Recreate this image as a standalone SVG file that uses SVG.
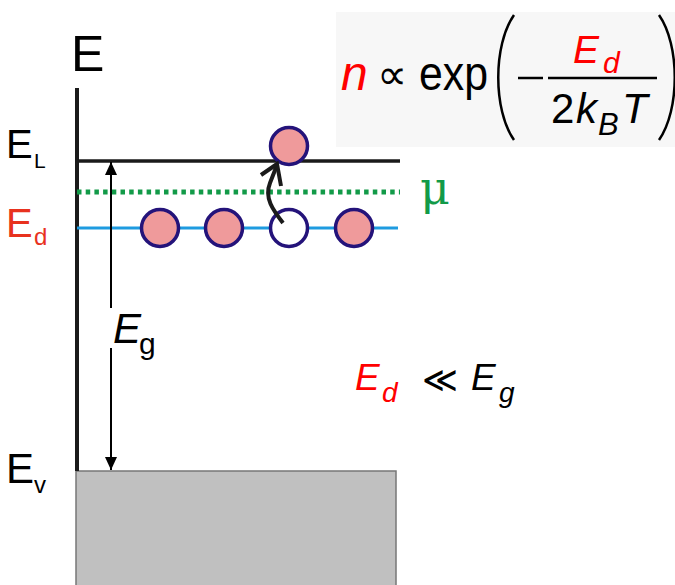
<svg xmlns="http://www.w3.org/2000/svg" width="675" height="585" viewBox="0 0 675 585">
<style>
.sans{font-family:"Liberation Sans",Arial,sans-serif}
.it{font-style:italic}
.red{fill:#ff0000}
.lred{fill:#e8321e}
.dot{fill:#ef9a9b;stroke:#24137a;stroke-width:3.5}
.hole{fill:#ffffff;stroke:#24137a;stroke-width:3.5}
</style>
<defs>
<marker id="ah" viewBox="0 0 13 12" refX="13" refY="6" markerWidth="13" markerHeight="12" markerUnits="userSpaceOnUse" orient="auto">
<path d="M0,0 L13,6 L0,12 Z" fill="#000"/>
</marker>
</defs>
<rect width="675" height="585" fill="#ffffff"/>

<g id="formula-box">
<rect x="336" y="12" width="339" height="135" fill="#f7f7f7"/>
<text class="sans it red" x="341" y="90" font-size="48">n</text>
<text x="377" y="89" font-family="'DejaVu Sans',sans-serif" font-size="42" fill="#000" textLength="30" lengthAdjust="spacingAndGlyphs">∝</text>
<text class="sans" x="419" y="90" font-size="48" textLength="69" lengthAdjust="spacingAndGlyphs">exp</text>
<path d="M514,15 C493,45 493,110 514,140" fill="none" stroke="#000" stroke-width="2.5"/>
<line x1="518" y1="78" x2="543" y2="78" stroke="#000" stroke-width="2.5"/>
<line x1="548" y1="78" x2="657" y2="78" stroke="#000" stroke-width="2.5"/>
<text class="sans it red" x="573" y="63" font-size="39">E</text>
<text class="sans it red" x="603" y="73" font-size="30">d</text>
<text class="sans" x="551" y="123" font-size="42">2</text>
<text class="sans it" x="576" y="123" font-size="42">k</text>
<text class="sans it" x="598" y="135" font-size="31">B</text>
<text class="sans it" x="622" y="123" font-size="42">T</text>
<path d="M659,15 C680,45 680,110 659,140" fill="none" stroke="#000" stroke-width="2.5"/>
</g>

<g id="valence-band">
<rect x="76" y="471" width="320" height="116" fill="#c0c0c0" stroke="#777" stroke-width="1.5"/>
</g>

<g id="axis">
<line x1="77" y1="88" x2="77" y2="471" stroke="#1a1a1a" stroke-width="4"/>
<text class="sans" x="71" y="71" font-size="50">E</text>
</g>

<g id="levels">
<line x1="77" y1="161" x2="400" y2="161" stroke="#1a1a1a" stroke-width="3.5"/>
<line x1="77" y1="192" x2="400" y2="192" stroke="#129a48" stroke-width="5" stroke-dasharray="4.5 4.2"/>
<line x1="77" y1="228" x2="398" y2="228" stroke="#1e9be0" stroke-width="3"/>
</g>

<g id="labels">
<text class="sans" x="6" y="158" font-size="40">E</text>
<text class="sans" x="34" y="168" font-size="21">L</text>
<text class="sans lred" x="6" y="237" font-size="40">E</text>
<text class="sans lred" x="34" y="245" font-size="24">d</text>
<text class="sans" x="6" y="483" font-size="42">E</text>
<text class="sans" x="34" y="493" font-size="24">v</text>
<text x="420" y="204" font-family="'DejaVu Serif',serif" font-size="46" fill="#129a48">μ</text>
</g>

<g id="donors">
<circle class="dot" cx="160" cy="228" r="18.5"/>
<circle class="dot" cx="224" cy="228" r="18.5"/>
<circle class="hole" cx="289" cy="228" r="18.5"/>
<circle class="dot" cx="354" cy="228" r="18.5"/>
<circle class="dot" cx="289" cy="146" r="18.5"/>
</g>

<g id="connectors">
<line x1="111" y1="308" x2="111" y2="162" stroke="#000" stroke-width="2" marker-end="url(#ah)"/>
<line x1="111" y1="348" x2="111" y2="470" stroke="#000" stroke-width="2" marker-end="url(#ah)"/>
<path d="M283,223 C273,210 264,198 270,183 L277,165" fill="none" stroke="#1a1a1a" stroke-width="4"/>
<path d="M261,175 L277,164 L281,186" fill="none" stroke="#1a1a1a" stroke-width="4"/>
</g>

<g id="eg-label">
<text class="sans it" x="113" y="343" font-size="42">E</text>
<text class="sans" x="139" y="354" font-size="30">g</text>
</g>

<g id="inequality">
<text class="sans it red" x="355" y="390" font-size="37">E</text>
<text class="sans it red" x="382" y="402" font-size="28">d</text>
<text x="422" y="392" font-family="'DejaVu Sans',sans-serif" font-size="36" fill="#000" textLength="36" lengthAdjust="spacingAndGlyphs">≪</text>
<text class="sans it" x="471" y="390" font-size="37">E</text>
<text class="sans it" x="499" y="402" font-size="28">g</text>
</g>
</svg>
